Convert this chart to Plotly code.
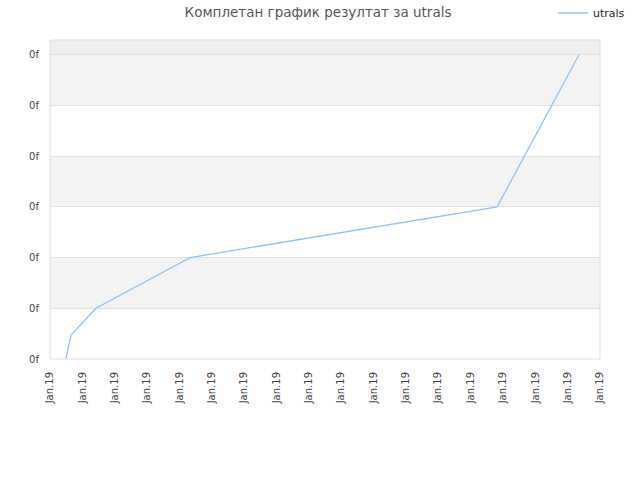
import plotly.graph_objects as go

# data
x_vals = [0.49, 0.65, 1.42, 4.33, 13.82, 16.35]
y_vals = [0.0, 0.47, 1.0, 2.0, 3.0, 6.0]
x_tick_vals = list(range(18))
x_tick_text = ["Jan.19"] * 18
y_tick_vals = [0, 1, 2, 3, 4, 5, 6]
y_tick_text = ["0f"] * 7
series_name = "utrals"
title_text = "Комплетан график резултат за utrals"

fig = go.Figure()
fig.add_trace(go.Scatter(x=x_vals, y=y_vals, mode="lines", name=series_name,
                         line=dict(color="#90c2f5", width=1.3)))

shapes = []
shapes.append(dict(type="rect", xref="paper", yref="y", x0=0, x1=1, y0=6, y1=6.29,
                   fillcolor="#eeeeee", line=dict(width=0), layer="below"))
for lo in [1, 3, 5]:
    shapes.append(dict(type="rect", xref="paper", yref="y", x0=0, x1=1, y0=lo, y1=lo + 1,
                       fillcolor="#f3f3f3", line=dict(width=0), layer="below"))
shapes.append(dict(type="rect", xref="paper", yref="paper", x0=0, x1=1, y0=0, y1=1,
                   line=dict(color="#dddddd", width=1), fillcolor="rgba(0,0,0,0)"))

fig.update_layout(
    width=640, height=480,
    margin=dict(l=50, r=40, t=40, b=121, autoexpand=False),
    paper_bgcolor="white", plot_bgcolor="white",
    font=dict(family="DejaVu Sans", color="#444444", size=10),
    title=dict(text=title_text, x=318 / 640, xanchor="center", xref="container",
               y=1 - 12 / 480, yanchor="middle", yref="container",
               font=dict(size=13.5, color="#555555")),
    shapes=shapes,
    showlegend=True,
    legend=dict(xref="container", yref="container", x=553 / 640, xanchor="left",
                y=1 - 13 / 480, yanchor="middle",
                font=dict(size=11, color="#222222"), itemwidth=30,
                bgcolor="rgba(0,0,0,0)"),
    xaxis=dict(range=[0, 17], tickvals=x_tick_vals, ticktext=x_tick_text,
               tickangle=-90, showgrid=False, zeroline=False, showline=False,
               automargin=False, ticklabelstandoff=10,
               ticks="", tickfont=dict(size=10, color="#444444")),
    yaxis=dict(range=[0, 6.29], tickvals=y_tick_vals, ticktext=y_tick_text,
               showgrid=True, gridcolor="#e0e0e0", gridwidth=1, zeroline=False,
               showline=False, automargin=False, ticklabelstandoff=10,
               ticks="", tickfont=dict(size=10, color="#444444")),
)

fig.write_html("out.html", config={"displayModeBar": False},
               post_script="document.body.style.margin='0';")
